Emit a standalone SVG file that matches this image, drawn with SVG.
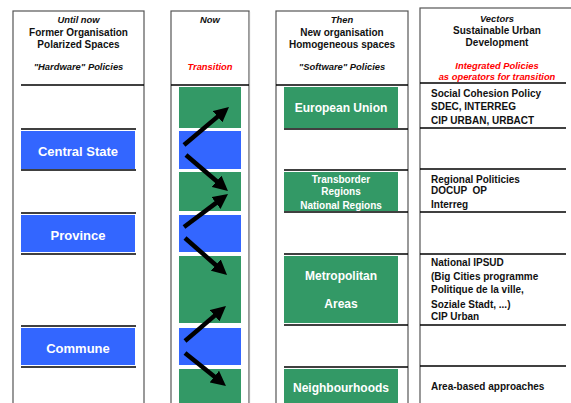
<svg xmlns="http://www.w3.org/2000/svg" width="571" height="403" viewBox="0 0 571 403">
<style>
text{font-family:"Liberation Sans",Arial,sans-serif;font-weight:bold;}
.col{fill:#fff;stroke:#555;stroke-width:1.2;}
.h{font-size:10px;fill:#111;text-anchor:middle;}
.hi{font-size:9.4px;font-style:italic;fill:#111;text-anchor:middle;}
.red{font-size:9.4px;font-style:italic;fill:#ff0000;text-anchor:middle;}
.sep{stroke:#000;stroke-width:1.6;}
.blue{fill:#3366ff;}
.green{fill:#339966;}
.lbl{font-size:13px;fill:#fff;text-anchor:middle;}
.lbl12{font-size:12px;fill:#fff;text-anchor:middle;}
.lbl10{font-size:10px;fill:#fff;text-anchor:middle;}
.body{font-size:10px;fill:#111;}
.arrow{stroke:#000;stroke-width:4.5;fill:none;marker-end:url(#ah);}
</style>
<defs>
<marker id="ah" markerUnits="userSpaceOnUse" markerWidth="17" markerHeight="15" viewBox="0 0 17 15" refX="4" refY="7.5" orient="auto">
<path d="M0,0 L15,7.5 L0,15 z" fill="#000"/>
</marker>
</defs>
<rect width="571" height="403" fill="#fff"/>

<g id="col-until-now">
<rect class="col" x="13" y="11" width="131" height="400"/>
<text class="hi" x="78.5" y="22.5">Until now</text>
<text class="h" x="78.5" y="35.5">Former Organisation</text>
<text class="h" x="78.5" y="47.5">Polarized Spaces</text>
<text class="hi" x="78.5" y="69.5">"Hardware" Policies</text>
<line class="sep" x1="21" y1="85" x2="144" y2="85"/>
</g>

<g id="col-now">
<rect class="col" x="171" y="11" width="78" height="400"/>
<line x1="249.5" y1="12" x2="249.5" y2="403" stroke="#aaa" stroke-width="1.2"/>
<text class="hi" x="210" y="22.5">Now</text>
<text class="red" x="210" y="69.5">Transition</text>
<line class="sep" x1="171" y1="85" x2="249" y2="85"/>
</g>

<g id="col-then">
<rect class="col" x="276" y="11" width="132" height="400"/>
<text class="hi" x="342" y="22.5">Then</text>
<text class="h" x="342" y="35.5">New organisation</text>
<text class="h" x="342" y="47.5">Homogeneous spaces</text>
<text class="hi" x="342" y="69.5">"Software" Policies</text>
<line class="sep" x1="276" y1="85" x2="408" y2="85"/>
</g>

<g id="col-vectors">
<rect class="col" x="420" y="8" width="170" height="400"/>
<text class="hi" x="497" y="21.5">Vectors</text>
<text class="h" x="497" y="33.5">Sustainable Urban</text>
<text class="h" x="497" y="45.5">Development</text>
<text class="red" x="497" y="68.5">Integrated Policies</text>
<text class="red" x="497" y="79.5">as operators for transition</text>
<line class="sep" x1="420" y1="83" x2="566" y2="83"/>
</g>

<g id="central-state">
<line class="sep" x1="21" y1="129" x2="136" y2="129"/>
<rect class="blue" x="21" y="131" width="114" height="38"/>
<line class="sep" x1="21" y1="170" x2="136" y2="170"/>
<text class="lbl" x="78" y="155.5">Central State</text>
</g>

<g id="province">
<line class="sep" x1="21" y1="213" x2="136" y2="213"/>
<rect class="blue" x="21" y="215" width="114" height="37"/>
<line class="sep" x1="21" y1="254" x2="136" y2="254"/>
<text class="lbl" x="78" y="239.5">Province</text>
</g>

<g id="commune">
<line class="sep" x1="21" y1="326" x2="136" y2="326"/>
<rect class="blue" x="21" y="328" width="114" height="37"/>
<line class="sep" x1="21" y1="367" x2="136" y2="367"/>
<text class="lbl" x="78" y="352.5">Commune</text>
</g>

<g id="transition-bars">
<rect class="green" x="179" y="87" width="62" height="41"/>
<rect class="blue" x="179" y="131" width="62" height="38"/>
<rect class="green" x="179" y="172" width="62" height="39"/>
<rect class="blue" x="179" y="215" width="62" height="37"/>
<rect class="green" x="179" y="256" width="62" height="67"/>
<rect class="blue" x="179" y="328" width="62" height="37"/>
<rect class="green" x="179" y="369" width="62" height="40"/>
</g>

<g id="european-union">
<rect class="green" x="284" y="87" width="114" height="41"/>
<line class="sep" x1="284" y1="129" x2="408" y2="129"/>
<text class="lbl12" x="341" y="112">European Union</text>
</g>

<g id="regions">
<line class="sep" x1="284" y1="170" x2="408" y2="170"/>
<rect class="green" x="284" y="172" width="114" height="39"/>
<line class="sep" x1="284" y1="212" x2="408" y2="212"/>
<text class="lbl10" x="341" y="183">Transborder</text>
<text class="lbl10" x="341" y="195">Regions</text>
<text class="lbl10" x="341" y="209">National Regions</text>
</g>

<g id="metropolitan-areas">
<line class="sep" x1="284" y1="254" x2="408" y2="254"/>
<rect class="green" x="284" y="256" width="114" height="67"/>
<line class="sep" x1="284" y1="325" x2="408" y2="325"/>
<text class="lbl12" x="341" y="280">Metropolitan</text>
<text class="lbl12" x="341" y="308">Areas</text>
</g>

<g id="neighbourhoods">
<line class="sep" x1="284" y1="367" x2="408" y2="367"/>
<rect class="green" x="284" y="369" width="114" height="40"/>
<text class="lbl12" x="341" y="392">Neighbourhoods</text>
</g>

<g id="vector-eu">
<text class="body" x="431" y="97">Social Cohesion Policy</text>
<text class="body" x="431" y="110">SDEC, INTERREG</text>
<text class="body" x="431" y="124">CIP URBAN, URBACT</text>
<line class="sep" x1="420" y1="128" x2="566" y2="128"/>
</g>

<g id="vector-regional">
<line class="sep" x1="420" y1="169" x2="566" y2="169"/>
<text class="body" x="431" y="183">Regional Politicies</text>
<text class="body" x="431" y="194" xml:space="preserve">DOCUP  OP</text>
<text class="body" x="431" y="208">Interreg</text>
<line class="sep" x1="420" y1="212" x2="566" y2="212"/>
</g>

<g id="vector-national">
<line class="sep" x1="420" y1="254" x2="566" y2="254"/>
<text class="body" x="431" y="266">National IPSUD</text>
<text class="body" x="431" y="280">(Big Cities programme</text>
<text class="body" x="431" y="293">Politique de la ville,</text>
<text class="body" x="431" y="308">Soziale Stadt, ...)</text>
<text class="body" x="431" y="320">CIP Urban</text>
<line class="sep" x1="420" y1="325" x2="566" y2="325"/>
</g>

<g id="vector-area">
<line class="sep" x1="420" y1="366" x2="566" y2="366"/>
<text class="body" x="431" y="390">Area-based approaches</text>
</g>

<g id="connectors">
<line class="arrow" x1="184" y1="145" x2="220.6" y2="114.1"/>
<line class="arrow" x1="186" y1="155" x2="219.6" y2="183.8"/>
<line class="arrow" x1="184" y1="227" x2="219.2" y2="200.6"/>
<line class="arrow" x1="185" y1="238" x2="218.8" y2="267.7"/>
<line class="arrow" x1="185" y1="341" x2="217.6" y2="313.1"/>
<line class="arrow" x1="185" y1="353" x2="217.4" y2="379.1"/>
</g>
</svg>
